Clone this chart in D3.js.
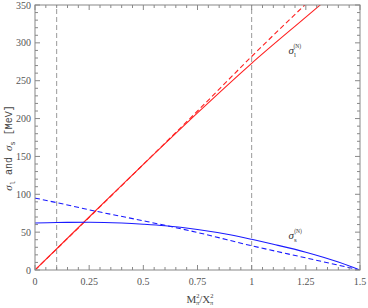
<!DOCTYPE html>
<html><head><meta charset="utf-8">
<script src="https://cdn.jsdelivr.net/npm/d3@7"></script>
<style>body{margin:0;background:#fff}svg{display:block}</style>
</head><body>
<script>
// Data (x = M_pi^2 / X_pi^2, y in MeV)
const sigmaLSolidX = [0, 0.25, 0.5, 0.75, 1.0, 1.25, 1.32];
const sigmaLSolidY = [0, 70, 139.5, 207.5, 273, 334, 351];
const sigmaLDashX  = [0, 0.25, 0.5, 0.75, 1.0, 1.245];
const sigmaLDashY  = [0, 69.5, 139.5, 210, 282, 350];
const sigmaSSolidX = [0, 0.1, 0.25, 0.4, 0.5, 0.6, 0.75, 0.9, 1.0, 1.1, 1.25, 1.4, 1.5];
const sigmaSSolidY = [62, 62.8, 63, 62, 60.5, 58.5, 53.5, 46.5, 40.5, 34, 23.5, 10.5, 0];
const sigmaSDashX  = [0, 0.1, 0.25, 0.5, 0.6, 0.75, 1.0, 1.25, 1.5];
const sigmaSDashY  = [95, 89, 79.5, 65, 59, 49.5, 32, 16, 0];
const vLines = [0.1, 1.0];
const xTicks = [0, 0.25, 0.5, 0.75, 1, 1.25, 1.5];
const xTickLabels = ["0", "0.25", "0.5", "0.75", "1", "1.25", "1.5"];
const yTicks = [0, 50, 100, 150, 200, 250, 300, 350];

const W = 368, H = 308;
const m = {left: 35, right: 8, top: 5, bottom: 38};
const svg = d3.select("body").append("svg").attr("width", W).attr("height", H);
const x = d3.scaleLinear().domain([0, 1.5]).range([m.left, W - m.right]);
const y = d3.scaleLinear().domain([0, 350]).range([H - m.bottom, m.top]);

const axisColor = "#888";
const font = "'Liberation Serif', 'DejaVu Serif', serif";
const mono = "'Liberation Mono', 'DejaVu Sans Mono', monospace";

const g = svg.append("g");
svg.append("defs").append("clipPath").attr("id", "clip")
  .append("rect").attr("x", m.left).attr("y", m.top)
  .attr("width", x(1.5) - m.left).attr("height", y(0) - m.top);

// vertical dashed lines
g.selectAll(".vl").data(vLines).join("line")
  .attr("x1", d => x(d)).attr("x2", d => x(d))
  .attr("y1", y(0)).attr("y2", y(350))
  .attr("stroke", "#999").attr("stroke-width", 1).attr("stroke-dasharray", "5,3");

const line = d3.line().x(d => x(d[0])).y(d => y(d[1])).curve(d3.curveMonotoneX);
const series = [
  {xs: sigmaLSolidX, ys: sigmaLSolidY, color: "#ff2020", dash: null},
  {xs: sigmaLDashX, ys: sigmaLDashY, color: "#ff2020", dash: "5,3"},
  {xs: sigmaSSolidX, ys: sigmaSSolidY, color: "#1a1aff", dash: null},
  {xs: sigmaSDashX, ys: sigmaSDashY, color: "#1a1aff", dash: "5,3"}
];
const plot = svg.append("g").attr("clip-path", "url(#clip)");
series.forEach(s => {
  plot.append("path").datum(s.xs.map((v, i) => [v, s.ys[i]]))
    .attr("d", line).attr("fill", "none").attr("stroke", s.color)
    .attr("stroke-width", 1.1).attr("stroke-dasharray", s.dash);
});

// frame
svg.append("rect").attr("x", m.left).attr("y", m.top)
  .attr("width", x(1.5) - m.left).attr("height", y(0) - m.top)
  .attr("fill", "none").attr("stroke", axisColor).attr("stroke-width", 1);

// ticks (inward on all sides)
const xMinor = d3.range(0, 1.5001, 0.05);
const yMinor = d3.range(0, 350.1, 10);
const tk = svg.append("g").attr("stroke", axisColor).attr("stroke-width", 1);
xMinor.forEach(v => {
  const major = Math.abs(v / 0.25 - Math.round(v / 0.25)) < 1e-6;
  const L = major ? 5 : 3;
  tk.append("line").attr("x1", x(v)).attr("x2", x(v)).attr("y1", y(0)).attr("y2", y(0) - L);
  tk.append("line").attr("x1", x(v)).attr("x2", x(v)).attr("y1", y(350)).attr("y2", y(350) + L);
});
yMinor.forEach(v => {
  const major = v % 50 === 0;
  const L = major ? 5 : 3;
  tk.append("line").attr("x1", x(0)).attr("x2", x(0) + L).attr("y1", y(v)).attr("y2", y(v));
  tk.append("line").attr("x1", x(1.5)).attr("x2", x(1.5) - L).attr("y1", y(v)).attr("y2", y(v));
});

// tick labels
svg.append("g").selectAll("text").data(xTicks).join("text")
  .attr("x", d => x(d)).attr("y", y(0) + 15)
  .attr("text-anchor", "middle").attr("font-family", font).attr("font-size", 10)
  .attr("fill", "#555").text((d, i) => xTickLabels[i]);
svg.append("g").selectAll("text").data(yTicks).join("text")
  .attr("x", m.left - 4).attr("y", d => y(d) + 3.5)
  .attr("text-anchor", "end").attr("font-family", font).attr("font-size", 10)
  .attr("fill", "#555").text(d => d);

// axis titles
const xt = svg.append("text").attr("x", 200).attr("y", 303)
  .attr("text-anchor", "middle").attr("font-family", font).attr("font-size", 11).attr("fill", "#444");
xt.append("tspan").text("M");
xt.append("tspan").attr("font-size", 6.5).attr("dy", -5).text("2");
xt.append("tspan").attr("font-size", 6.5).attr("dx", -3.5).attr("dy", 7).text("π");
xt.append("tspan").attr("dy", -2).text("/X");
xt.append("tspan").attr("font-size", 6.5).attr("dy", -5).text("2");
xt.append("tspan").attr("font-size", 6.5).attr("dx", -3.5).attr("dy", 7).text("π");

const yt = svg.append("text").attr("transform", `translate(12,148) rotate(-90)`)
  .attr("text-anchor", "middle").attr("font-family", mono).attr("font-size", 10).attr("fill", "#444");
yt.append("tspan").attr("font-family", font).attr("font-style", "italic").attr("font-size", 11).text("σ");
yt.append("tspan").attr("font-size", 7).attr("dy", 3).text("l");
yt.append("tspan").attr("dy", -3).text(" and ");
yt.append("tspan").attr("font-family", font).attr("font-style", "italic").attr("font-size", 11).text("σ");
yt.append("tspan").attr("font-size", 7).attr("dy", 3).text("s");
yt.append("tspan").attr("dy", -3).text(" [MeV]");

// curve labels
function sigmaLabel(px, py, sub) {
  const t = svg.append("text").attr("x", px).attr("y", py)
    .attr("font-family", font).attr("font-size", 11).attr("fill", "#333");
  t.append("tspan").attr("font-style", "italic").text("σ");
  t.append("tspan").attr("font-size", 7).attr("dy", 3).text(sub);
  t.append("tspan").attr("font-size", 5.5).attr("dx", -2.5).attr("dy", -9).text("(N)");
}
sigmaLabel(x(1.17), y(285), "l");
sigmaLabel(x(1.17), y(41), "s");
</script>
</body></html>
